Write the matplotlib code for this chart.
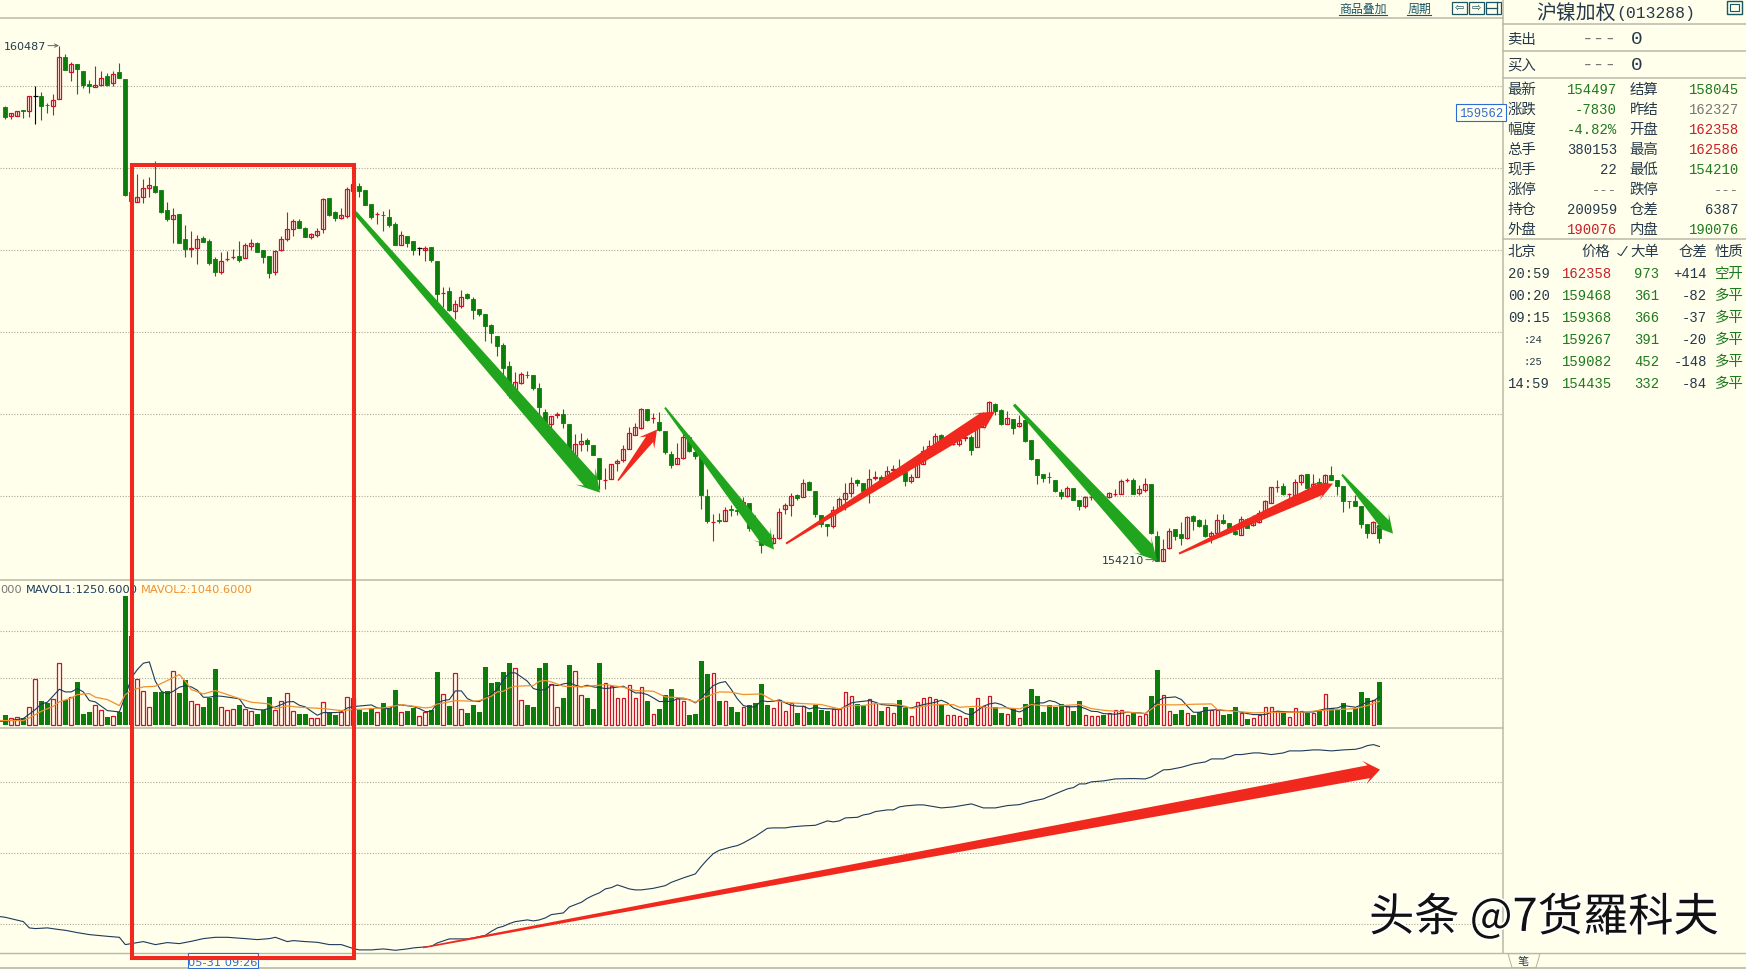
import matplotlib
matplotlib.use("Agg")
import numpy as np
import matplotlib.pyplot as plt
from matplotlib.patches import Polygon, Rectangle
import matplotlib.patheffects as pe

plt.rcParams['font.family'] = ['Noto Sans CJK SC', 'DejaVu Sans']

# OHLC
opens = [159739,159626,159630,159703,159691,159870,159874,159770,159752,159837,
160349,160166,160264,160183,160020,159983,160004,160118,160032,160166,
160081,158702,158580,158641,158759,158780,158727,158483,158373,158434,
158129,158017,158019,158145,158105,157889,157734,157887,157911,157922,
157905,158052,158080,157999,157926,157734,157995,158129,158251,158353,
158267,158161,158182,158251,158629,158462,158385,158418,158723,158780,
158727,158556,158432,158424,158397,158312,158064,158166,158105,158019,
157999,158031,157860,157472,157494,157259,157320,157458,157405,157283,
157226,157092,156950,156840,156584,156262,156384,156476,156482,156323,
156031,155884,155992,156006,155884,155453,155640,155681,155628,155469,
155199,155209,155404,155441,155575,155746,155831,156059,155951,155909,
155795,155518,155396,155469,155726,155534,155510,155006,154683,154707,
154701,154841,154829,154786,154924,154725,154489,154542,154428,154489,
154843,154896,155010,154989,155168,155067,154766,154664,154632,154835,
154965,155042,155193,155164,155071,155227,155233,155213,155325,155343,
155294,155185,155233,155396,155551,155620,155750,155640,155638,155640,
155715,155722,155600,155844,156018,156128,156051,155884,155945,155856,
155925,155689,155457,155266,155236,155193,155055,155002,155103,154957,
154880,154988,154957,155004,154990,155028,155030,155199,155201,155034,
155071,155144,154518,154217,154367,154607,154542,154489,154754,154705,
154644,154522,154550,154717,154676,154583,154534,154721,154644,154685,
154823,154920,155110,155120,155024,155014,155173,155266,155124,155173,
155165,155262,155201,155128,154943,154937,154876,154668,154554,154656]
closes = [159622,159666,159687,159687,159874,159870,159748,159766,159825,160349,
160187,160264,160199,160004,159992,160008,160093,160004,160138,160089,
158674,158601,158649,158751,158788,158710,158466,158381,158430,158088,
158015,158021,158137,158100,157844,157730,157869,157891,157915,157873,
158056,158080,157978,157917,157722,157983,158129,158259,158353,158271,
158161,158190,158227,158621,158430,158393,158430,158739,158804,158723,
158544,158401,158436,158420,158308,158064,158178,158088,158003,158019,
158027,157877,157466,157476,157263,157344,157433,157409,157267,157218,
157076,156990,156832,156563,156230,156397,156486,156472,156315,156084,
155892,155982,155996,155892,155498,155640,155677,155640,155502,155205,
155203,155396,155429,155579,155774,155848,156067,155929,155955,155807,
155534,155376,155465,155726,155547,155486,155014,154693,154687,154703,
154835,154837,154825,154933,154611,154603,154408,154440,154493,154811,
154896,155006,154973,155164,155071,154778,154664,154632,154827,154961,
155042,155164,155160,155059,155213,155231,155172,155307,155329,155274,
155185,155238,155396,155551,155612,155734,155640,155681,155642,155689,
155719,155559,155864,155986,156149,156035,155884,155957,155827,155896,
155669,155457,155254,155221,155232,155063,155002,155099,154957,154876,
154985,154992,154990,155000,155042,155032,155189,155203,155026,155083,
155144,154550,154213,154359,154583,154510,154489,154750,154693,154636,
154510,154554,154713,154672,154583,154542,154729,154619,154685,154798,
154945,155107,155114,155022,155028,155173,155262,155103,155152,155132,
155262,155201,155124,154945,154939,154880,154660,154550,154689,154489]
highs = [159756,159674,159687,159703,159874,160000,159922,159788,159898,160487,
160386,160288,160264,160183,160069,160240,160175,160154,160175,160280,
160081,158702,158926,158861,158894,159081,158727,158580,158507,158434,
158300,158231,158182,158170,158137,157909,157970,157991,158007,158109,
158080,158129,158096,157999,157926,157999,158170,158462,158377,158377,
158279,158202,158263,158629,158629,158479,158507,158763,158812,158812,
158727,158556,158466,158479,158495,158336,158231,158166,158105,158039,
158052,158031,157860,157543,157543,157389,157507,157478,157429,157283,
157226,157104,156950,156872,156645,156511,156515,156527,156482,156380,
156067,155982,156027,156059,155884,155762,155774,155709,155628,155469,
155347,155396,155457,155620,155844,155896,156079,156059,156014,156022,
155795,155551,155648,155783,155750,155567,155510,155091,154778,154798,
154867,154888,154867,154989,154924,154766,154656,154542,154542,154859,
154916,155042,155030,155205,155189,155067,154766,154664,154876,154989,
155164,155233,155213,155164,155335,155307,155254,155364,155376,155457,
155294,155266,155498,155616,155681,155770,155762,155681,155701,155742,
155754,155742,155966,156027,156157,156136,156059,156039,155945,155986,
155925,155689,155457,155266,155291,155193,155091,155128,155103,154957,
154998,155010,154990,155030,155051,155091,155209,155217,155225,155132,
155225,155144,154583,154481,154615,154607,154689,154754,154766,154725,
154725,154583,154790,154786,154676,154644,154754,154733,154766,154827,
154949,155112,155201,155164,155042,155213,155274,155266,155274,155225,
155274,155372,155201,155128,154943,155010,154876,154668,154693,154656]
lows = [159601,159601,159630,159613,159617,159540,159577,159666,159646,159837,
160187,160053,159894,159971,159906,159983,159996,159996,159992,160089,
158662,158589,158580,158576,158649,158698,158454,158349,158088,158088,
157917,157917,157832,158100,157820,157686,157710,157869,157885,157856,
157901,157999,157970,157844,157661,157698,157991,158113,158170,158263,
158157,158137,158161,158210,158418,158357,158377,158393,158715,158649,
158544,158377,158316,158235,158275,158060,158056,158039,157942,157942,
157869,157856,157328,157307,157255,157157,157287,157405,157157,157194,
156893,156868,156710,156474,156201,156210,156372,156441,156299,155966,
155823,155770,155957,155831,155498,155425,155551,155551,155502,155083,
155083,155209,155307,155417,155571,155742,155823,155917,155892,155795,
155510,155343,155396,155457,155534,155453,154839,154680,154453,154672,
154697,154758,154766,154766,154583,154603,154306,154440,154420,154481,
154786,154758,154957,154985,155071,154745,154623,154514,154615,154827,
154835,154989,155120,155030,154920,155193,155152,155193,155274,155254,
155124,155160,155233,155396,155518,155600,155620,155640,155620,155612,
155673,155498,155600,155844,156014,155994,155868,155880,155762,155848,
155661,155445,155148,155173,155160,155051,154969,154990,154949,154831,
154855,154949,154929,154982,154981,155002,155026,155173,155022,155014,
155051,154542,154210,154213,154363,154473,154412,154485,154595,154624,
154502,154432,154546,154664,154575,154530,154530,154611,154640,154676,
154819,154916,155051,155010,154965,155010,155132,155099,155120,155120,
155156,155193,155010,154806,154859,154876,154611,154489,154550,154428]

volumes = [1065,710,816,710,1882,4864,2556,2272,2769,6568,
2627,2911,4580,1172,1385,2095,1598,852,959,1385,
13632,9479,4864,3586,1882,3515,3515,3621,5716,3408,
4793,2521,2201,1917,2840,5964,1882,1598,1669,2130,
1704,1491,1172,1598,2982,1598,2521,3373,1456,1172,
1172,710,710,2414,1243,1065,1385,2947,2840,1562,
1385,1775,1385,2343,1775,3728,1349,1491,1775,923,
1385,1598,5645,3266,2024,5503,1669,1278,2130,1385,
6177,4473,4580,5645,6603,6035,2627,2130,1917,6071,
6603,4331,1882,2876,6390,5716,3160,2876,1704,6603,
4438,4118,2840,2840,4225,2840,4012,2556,1136,1704,
3195,3834,2876,2521,1065,1172,6816,5432,5503,2556,
2521,1917,1385,1882,2095,2343,4367,2095,1775,2663,
1456,2308,1278,1988,1385,2095,1598,1491,1669,1669,
3479,3053,2201,1988,2734,2308,1491,1882,1243,2663,
1811,923,2414,2840,2947,2734,2201,1030,1030,923,
710,1811,2840,1988,3053,1917,1278,1136,1740,710,
2237,3834,3089,1385,2130,1882,2237,2024,1491,2556,
1030,923,923,1065,1243,1562,1562,1065,1243,923,
1172,3089,5858,3160,1456,1172,1598,1243,1065,1385,
1917,1562,1562,1065,1172,1917,1243,639,710,1030,
1882,1882,1456,1243,817,1775,1456,1278,1278,1456,
3266,1775,1598,2343,1385,1775,3515,2876,2627,4580]

mavol1_idx = [-1,0,3,5,6,7,9,10,11,12,13,14,15,17,19,20,21,22,23,24,25,26,27,28,29,30,31,32,33,34,35,36,38,39,40,41,42,43,45,46,47,48,49,50,51,52,53,55,56,57,58,61,62,63,64,65,66,68,69,70,71,72,73,74,75,76,77,78,79,80,81,82,
83,84,85,86,87,88,89,90,91,92,93,94,95,96,97,98,99,100,101,103,104,105,106,107,108,109,111,112,113,114,115,116,117,118,119,120,121,122,123,124,125,126,127,128,129,130,131,132,133,134,135,136,138,139,140,141,142,144,145,146,148,149,151,152,153,155,156,157,
158,159,160,161,162,163,164,165,166,167,168,169,170,171,172,173,174,175,176,177,179,180,181,182,183,185,187,189,190,191,192,193,195,196,197,198,199,200,202,203,205,206,207,208,210,211,212,214,216,218,219,220,222,223,225,226,227,228,229]
mavol1 = [355,355,639,1598,2201,2379,3763,3479,3479,3834,3479,2556,2414,1491,1349,3018,4970,5858,6532,6674,4615,3550,3266,3550,3976,4154,4012,3657,2911,2911,3053,3018,2840,2734,1846,1704,1598,1562,1882,2130,2414,2450,2059,1882,1420,994,1278,1278,1349,1775,1917,2095,1775,1704,1704,2095,2095,1917,1704,1385,1385,2308,2556,2663,3586,3586,2769,2485,2450,2840,3231,3763,
4793,5503,5503,5077,4615,3834,3657,3728,4225,4154,4331,4438,4189,4012,4189,4012,3941,3834,3905,4083,3728,3373,3373,3195,2840,2450,2485,2734,2734,2663,2308,2840,3550,4154,4438,4580,3728,2734,2024,1882,1882,2556,2450,2485,2627,2308,2059,1953,1953,1669,1846,1704,1669,1598,1953,2308,2414,2556,2379,2130,2024,1953,1775,1953,2130,2379,2592,2308,
1775,1527,1172,1030,1491,1953,2201,2308,2130,1775,1527,1349,1598,2059,2308,2308,2556,2414,2059,1882,1917,1704,1420,1385,1172,1100,1314,1243,1172,1775,2485,2840,2947,2663,1953,1314,1314,1491,1598,1491,1491,1314,1172,1065,1065,1314,1420,1349,1314,1349,1527,1669,1775,2024,1846,2095,2414,2521,2947]

mavol2_idx = [-1,0,3,4,6,8,9,11,12,14,15,17,19,20,21,23,25,27,29,30,31,33,35,37,39,41,44,45,47,49,51,53,56,58,61,63,66,68,70,71,72,74,75,78,79,81,82,
83,84,85,88,89,90,91,93,96,100,103,105,108,110,113,115,117,119,121,123,126,128,131,134,136,139,141,143,145,148,150,151,153,155,157,
158,159,162,164,167,169,171,174,177,179,181,183,187,190,192,195,198,201,202,205,208,212,216,219,222,225,227,229]
mavol2 = [426,426,426,710,1420,1953,2414,2840,3195,3302,2911,2663,2024,3195,3657,4012,4083,4686,5325,4615,3728,3266,3621,3195,2769,2379,2201,1704,1988,1846,1775,1704,1491,1598,1704,1775,2130,1953,1775,1846,2201,2414,2556,2485,2556,3018,3479,
3550,3905,4083,4154,4615,4686,4544,4083,4012,4260,3976,3621,3550,2947,2840,2379,3018,3479,3444,3195,3266,2556,2308,2201,2130,1669,2024,2024,2237,2201,1953,1704,1953,2130,2130,
2130,1846,1953,1775,1775,1669,2130,1953,2059,2130,1704,1527,1314,1172,2130,2095,2166,2201,1598,1420,1243,1314,1314,1491,1598,1704,2024,2485]

# open interest curve in the bottom pane
oi_idx = [-1,0,3,4,5,7,9,10,12,14,17,19,20,22,23,25,27,29,31,33,35,37,40,42,44,45,47,48,50,52,54,56,58,59,61,63,65,67,68,70,71,72,74,77,78,80,81,82,
83,84,85,87,88,89,90,91,93,94,96,97,98,99,100,101,102,103,104,105,106,108,110,111,113,115,116,117,118,119,121,122,123,125,126,127,128,130,131,133,135,137,138,139,140,142,143,144,145,147,148,149,
150,152,153,156,158,161,163,165,167,169,171,173,174,177,178,179,180,181,183,185,188,190,191,193,194,196,198,200,201,203,205,206,208,209,211,213,214,216,218,219,221,223,225,226,227,228,229]
oi = [196200,196177,196056,195879,195859,195879,195831,195811,195746,195690,195642,195614,195408,195465,195493,195408,195465,195436,195501,195577,195614,195614,195577,195549,195577,195614,195493,195521,195493,195473,195408,195408,195296,195259,195259,195287,195248,195287,195315,195343,195360,195456,195569,195569,195597,195670,195783,195879,
195924,196000,196056,196104,196076,196104,196160,196253,196301,196470,196600,196713,196797,196865,196977,197014,197090,197034,196977,196949,196949,196994,197070,197163,197287,197400,197614,197803,197972,198065,198160,198197,198273,198459,198572,198684,198696,198696,198724,198752,198769,198893,198865,198893,198977,198994,199062,199090,199155,199203,199203,199287,
199315,199344,199344,199259,199287,199372,199259,199259,199324,199352,199445,199513,199586,199794,199831,199935,199935,199992,200020,200076,200085,200076,200132,200330,200338,200403,200499,200555,200639,200639,200761,200761,200808,200808,200761,200808,200865,200865,200893,200893,200865,200893,200910,200949,201014,201042,200990]

price_grid = [160000, 159000, 158000, 157000, 156000, 155000]
vol_grid = [5000, 10000]
oi_grid = [196000, 198000, 200000]

quote_rows = [("最新", "154497", "#1E7A1E", "结算", "158045", "#1E7A1E"),
              ("涨跌", "-7830", "#1E7A1E", "昨结", "162327", "#777777"),
              ("幅度", "-4.82%", "#1E7A1E", "开盘", "162358", "#C8202A"),
              ("总手", "380153", "#26394A", "最高", "162586", "#C8202A"),
              ("现手", "22", "#26394A", "最低", "154210", "#1E7A1E"),
              ("涨停", "---", "#777777", "跌停", "---", "#777777"),
              ("持仓", "200959", "#26394A", "仓差", "6387", "#26394A"),
              ("外盘", "190076", "#C8202A", "内盘", "190076", "#1E7A1E")]
trade_times = ["20:59", "00:20", "09:15", ":24", ":25", "14:59"]
trade_prices = ["162358", "159468", "159368", "159267", "159082", "154435"]
trade_sizes = ["973", "361", "366", "391", "452", "332"]
trade_oi = ["+414", "-82", "-37", "-20", "-148", "-84"]
trade_type = ["空开", "多平", "多平", "多平", "多平", "多平"]

BG = "#FFFFEC"
GREEN = "#0B7D0B"
RED = "#CC1429"
ARROW_GREEN = "#22A51E"
ARROW_RED = "#F0281E"
LINE = "#B9B9AA"
DARK = "#26394A"
BLUE = "#2F6BD0"
W, H = 1746, 970
SHIFT = 0.6

fig = plt.figure(figsize=(W / 100, H / 100), dpi=100, facecolor=BG)


def panel(top, bottom, ylim, ticks):
    ax = fig.add_axes([0, 1 - (bottom + SHIFT) / H, 1503 / W, (bottom - top) / H])
    ax.set_facecolor(BG)
    ax.set_xlim(-0.889, 249.6)
    ax.set_ylim(*ylim)
    ax.set_yticks(ticks)
    ax.set_xticks([])
    ax.tick_params(length=0, labelleft=False)
    ax.grid(axis='y', linestyle=(0, (1, 1.5)), color="#A8A89A", linewidth=0.8)
    ax.set_axisbelow(True)
    for s in ax.spines.values():
        s.set_visible(False)
    return ax


idx = np.arange(len(opens))
o = np.array(opens)
c = np.array(closes)
up = c > o
flat = c == o
down = c < o

ax_price = panel(18, 580, (153985, 160830), price_grid)
for mask, col in ((up, RED), (down, GREEN), (flat, "black")):
    ax_price.vlines(idx[mask], np.array(lows)[mask], np.array(highs)[mask], color=col, linewidth=0.8)
bottoms = np.minimum(o, c)
heights = np.abs(c - o)
ax_price.bar(idx[up], heights[up], bottom=bottoms[up], width=0.66, facecolor=BG, edgecolor=RED, linewidth=0.9)
ax_price.bar(idx[down], heights[down], bottom=bottoms[down], width=0.7, facecolor=GREEN, edgecolor=GREEN, linewidth=0.6)
ax_price.hlines(c[flat], idx[flat] - 0.38, idx[flat] + 0.38, color="black", linewidth=0.9)

ax_vol = panel(580, 728, (-319, 15428), vol_grid)
v = np.array(volumes)
ax_vol.bar(idx[~down], v[~down], width=0.62, facecolor=BG, edgecolor=RED, linewidth=0.9)
ax_vol.bar(idx[down], v[down], width=0.78, color=GREEN, linewidth=0)
ax_vol.plot(mavol1_idx, mavol1, color="#1C3A5A", linewidth=0.8)
ax_vol.plot(mavol2_idx, mavol2, color="#F09030", linewidth=0.9)

ax_oi = panel(728, 953, (195183, 201521), oi_grid)
ax_oi.plot(oi_idx, oi, color="#1C3A5A", linewidth=0.8)

# everything else sits on a pixel overlay
over = fig.add_axes([0, 0, 1, 1], facecolor="none")
over.set_xlim(0, W)
over.set_ylim(H - SHIFT, -SHIFT)
over.axis('off')

for y in (18, 580, 728):
    over.plot([0, 1503], [y, y], color=LINE, linewidth=1.1)
over.plot([0, W], [953, 953], color=LINE, linewidth=1.0)
over.plot([0, W], [968.8, 968.8], color=LINE, linewidth=1.2)
over.plot([1503, 1503], [0, 953], color=LINE, linewidth=1.1)
for y in (24, 51.5, 78, 239):
    over.plot([1503, W], [y, y], color=LINE, linewidth=1.1)


def arrow(x0, y0, x1, y1, color, tail, neck, head, head_len):
    d = np.array([x1 - x0, y1 - y0], dtype=float)
    u = d / np.hypot(*d)
    n = np.array([-u[1], u[0]])
    p0 = np.array([x0, y0], dtype=float)
    tip = np.array([x1, y1], dtype=float)
    nk = tip - u * head_len * 0.72
    hb = tip - u * head_len
    pts = [p0 + n * tail / 2, nk + n * neck / 2, hb + n * head / 2, tip,
           hb - n * head / 2, nk - n * neck / 2, p0 - n * tail / 2]
    over.add_patch(Polygon(pts, closed=True, facecolor=color, edgecolor="none", zorder=5))


arrow(355, 213, 600, 493, ARROW_GREEN, 4, 15, 26, 22)
arrow(618, 481, 657, 430, ARROW_RED, 1.5, 9, 19, 17)
arrow(665, 408, 774, 550, ARROW_GREEN, 2, 13, 21, 20)
arrow(786, 544, 995, 412, ARROW_RED, 2, 13, 21, 20)
arrow(1014, 405, 1157, 561, ARROW_GREEN, 3, 15, 24, 22)
arrow(1179, 554, 1333, 484, ARROW_RED, 2, 12, 20, 20)
arrow(1342, 475, 1393, 534, ARROW_GREEN, 2, 11, 20, 18)
arrow(423, 948, 1380, 770, ARROW_RED, 1.5, 13, 24, 16)

over.add_patch(Rectangle((131.5, 165), 222, 793.5, fill=False, edgecolor=ARROW_RED, linewidth=2.9, zorder=6))

over.text(3.5, 46, "160487", fontsize=8, family="DejaVu Sans", color=DARK, va="center")
over.annotate("", xy=(59, 46), xytext=(48, 46),
              arrowprops=dict(arrowstyle="->", color="#666666", lw=0.7, mutation_scale=6, shrinkA=0, shrinkB=0))
over.text(1102, 560, "154210", fontsize=8, family="DejaVu Sans", color=DARK, va="center")
over.annotate("", xy=(1157, 560), xytext=(1146, 560),
              arrowprops=dict(arrowstyle="->", color="#666666", lw=0.7, mutation_scale=6, shrinkA=0, shrinkB=0))
over.text(0, 589.5, "000", fontsize=8.2, family="DejaVu Sans", color="#777777", va="center")
over.text(26, 589.5, "MAVOL1:1250.6000", fontsize=8.2, family="DejaVu Sans", color="#1C3A5A", va="center")
over.text(141, 589.5, "MAVOL2:1040.6000", fontsize=8.2, family="DejaVu Sans", color="#F09030", va="center", zorder=7)

over.text(1481, 113, "159562", fontsize=8.8, family="Liberation Mono", color=BLUE, ha="center", va="center",
          bbox=dict(boxstyle="square,pad=0.2", facecolor=BG, edgecolor=BLUE, linewidth=0.8))
over.add_patch(Rectangle((187.5, 953), 70.5, 15.5, facecolor=BG, edgecolor=BLUE, linewidth=0.8, zorder=4))
over.text(222.7, 962, "05-31 09:26", fontsize=8.2, family="DejaVu Sans", color=BLUE, ha="center", va="center", zorder=4)
over.plot([131.5, 353.5], [958.5, 958.5], color=ARROW_RED, linewidth=2.9, zorder=6)

# top bar
TEAL = "#1A5566"
over.text(1363, 9, "商品叠加", fontsize=8.6, color=TEAL, ha="center", va="center")
over.plot([1339, 1387], [15, 15], color=TEAL, linewidth=0.8)
over.text(1419, 9, "周期", fontsize=8.6, color=TEAL, ha="center", va="center")
over.plot([1407, 1431], [15, 15], color=TEAL, linewidth=0.8)
for x0, glyph in ((1452, "⇦"), (1469, "⇨"), (1486, "")):
    over.add_patch(Rectangle((x0, 2), 15, 12, fill=False, edgecolor=TEAL, linewidth=0.9))
    if glyph:
        over.text(x0 + 7.5, 7.5, glyph, fontsize=8, family="DejaVu Sans", color=TEAL, ha="center", va="center")
over.plot([1486, 1497], [8, 8], color=TEAL, linewidth=0.9)
over.plot([1497, 1497], [2, 14], color=TEAL, linewidth=0.9)
over.add_patch(Rectangle((1727, 1.5), 15, 12.5, fill=False, edgecolor=TEAL, linewidth=1.0))
over.add_patch(Rectangle((1730, 4), 9, 7, fill=False, edgecolor=TEAL, linewidth=0.8))

# quote panel
over.text(1576, 12.5, "沪镍加权", fontsize=14.3, color=DARK, ha="center", va="center")
over.text(1616, 12.5, "(013288)", fontsize=11.8, family="Liberation Mono", color=DARK, va="center")
MONO = dict(family="Liberation Mono", fontsize=10, va="center")
CJK = dict(fontsize=10.4, va="center")
over.text(1507.5, 39, "卖出", color=DARK, **CJK)
over.text(1507.5, 65, "买入", color=DARK, **CJK)
over.text(1617, 39, "---", color="#777777", ha="right", family="Liberation Mono", fontsize=14, va="center")
over.text(1617, 65, "---", color="#777777", ha="right", family="Liberation Mono", fontsize=14, va="center")
over.text(1631, 39, "0", fontsize=14, family="Liberation Mono", color=DARK, va="center")
over.text(1631, 65, "0", fontsize=14, family="Liberation Mono", color=DARK, va="center")

y = 89
for lab1, val1, col1, lab2, val2, col2 in quote_rows:
    over.text(1507.5, y, lab1, color=DARK, **CJK)
    over.text(1617, y, val1, color=col1, ha="right", **MONO)
    over.text(1629.5, y, lab2, color=DARK, **CJK)
    over.text(1739, y, val2, color=col2, ha="right", **MONO)
    y += 20

over.text(1507.5, 251, "北京", color=DARK, **CJK)
over.text(1610, 251, "价格", color=DARK, ha="right", **CJK)
over.plot([1618, 1621, 1627], [254, 256, 247], color=DARK, linewidth=0.8)
over.text(1659, 251, "大单", color=DARK, ha="right", **CJK)
over.text(1707, 251, "仓差", color=DARK, ha="right", **CJK)
over.text(1743.5, 251, "性质", color=DARK, ha="right", **CJK)

for k in range(len(trade_times)):
    y = 273 + 22 * k
    t = trade_times[k]
    if t.startswith(":"):
        over.text(1542, y, t, family="Liberation Mono", fontsize=7.5, color=DARK, ha="right", va="center")
    else:
        over.text(1508, y, t, color=DARK, **MONO)
    over.text(1612, y, trade_prices[k], color="#C8202A" if k == 0 else "#1E7A1E", ha="right", **MONO)
    over.text(1659, y, trade_sizes[k], color="#1E7A1E", ha="right", **MONO)
    over.text(1707, y, trade_oi[k], color=DARK, ha="right", **MONO)
    over.text(1743.5, y, trade_type[k], color="#1E7A1E", ha="right", **CJK)

over.add_patch(Polygon([(1508, 954), (1540, 954), (1536, 968), (1512, 968)], closed=True, facecolor=BG, edgecolor=LINE, linewidth=0.8))
over.text(1523, 961, "笔", fontsize=8, color=DARK, ha="center", va="center")

over.text(1369, 918, "头条 @7货羅科夫", fontsize=32.6, color="#111111", va="center", zorder=8,
          path_effects=[pe.withStroke(linewidth=2.5, foreground="white")])

fig.savefig("out.png", dpi=100, facecolor=BG)
